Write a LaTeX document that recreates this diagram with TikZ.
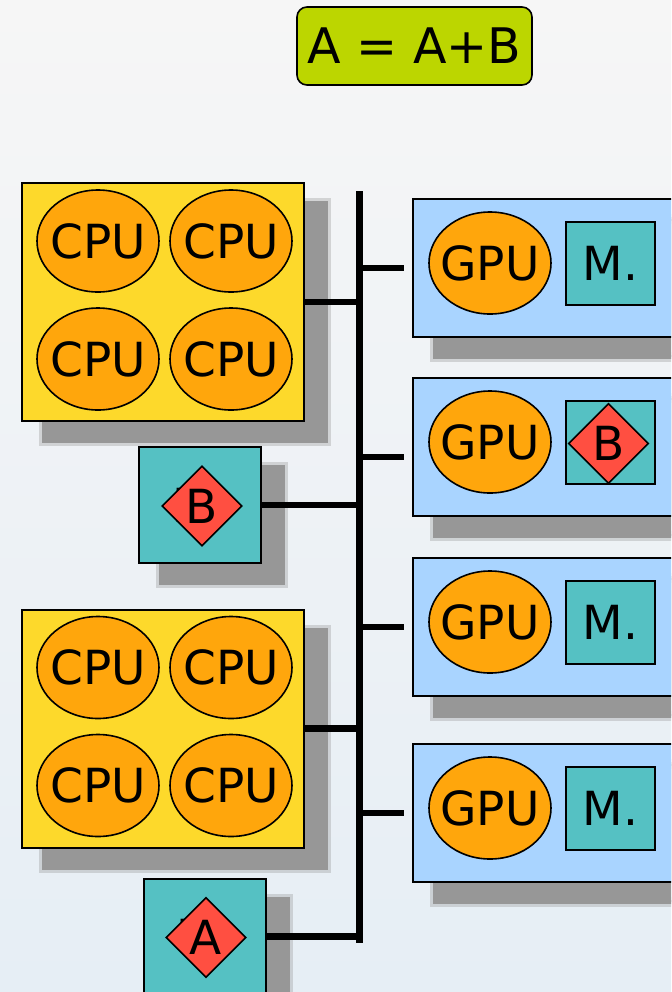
\documentclass[tikz,border=0pt]{standalone}
\usepackage{fontspec}
\setmainfont{DejaVu Sans}
\usetikzlibrary{calc,shapes.geometric}
\definecolor{boardgold}{HTML}{FDD92B}
\definecolor{coreorange}{HTML}{FFA60C}
\definecolor{memteal}{HTML}{55C1C3}
\definecolor{gpublue}{HTML}{A9D4FF}
\definecolor{datared}{HTML}{FF4F41}
\definecolor{formulalime}{HTML}{BCD600}
\definecolor{bgtop}{HTML}{F6F6F6}
\definecolor{bgbottom}{HTML}{E6EEF5}
\definecolor{shadowgrey}{HTML}{979797}
\tikzset{
    board shadow/.style={
        preaction={draw=shadowgrey,line width=5pt,draw opacity=.35,
            transform canvas={xshift=11pt,yshift=-10pt}},
        preaction={draw=shadowgrey,line width=2pt,fill=shadowgrey,
            transform canvas={xshift=11pt,yshift=-10pt}}
    },
    big text/.style={font=\fontsize{23.5}{28}\selectfont},
    cpu board/.style={draw,line width=1pt,fill=boardgold,
        minimum width=141pt,minimum height=119pt,board shadow},
    gpu board/.style={draw,line width=1pt,fill=gpublue,
        minimum width=150pt,minimum height=69pt,board shadow},
    core/.style={ellipse,draw,line width=.8pt,fill=coreorange,
        minimum width=61pt,minimum height=51pt,inner xsep=-5pt,
        inner ysep=0pt,big text},
    mem box/.style={draw,line width=.8pt,fill=memteal,
        minimum width=44.5pt,minimum height=41.5pt,inner sep=0pt,big text},
    host mem/.style={mem box,line width=1pt,
        minimum width=61pt,minimum height=58pt,board shadow},
    data tag/.style={diamond,draw,line width=.8pt,fill=datared,
        minimum width=40pt,minimum height=40pt,inner sep=-3pt,big text},
    formula/.style={draw,line width=.8pt,fill=formulalime,rounded corners=5pt,
        minimum width=117.5pt,minimum height=39pt,inner sep=0pt,
        font=\fontsize{24.5}{29}\selectfont},
    bus line/.style={line width=3.5pt},
    bus link/.style={line width=3.3pt}
}
\newcommand{\CpuBoard}[3]{%
\node[cpu board](#1)at(#2,#3){};
\foreach \dx/\dy/\k in {-65/-61/1,68/-61/2,-65/57/3,68/57/4}
    \node[core](#1-\k)at($(#1)+(\dx,\dy)$){CPU};
}
\newcommand{\GpuBoard}[2]{%
\node[gpu board](#1)at(563,#2){};
\node[core](#1-core)at(490,#2-5){GPU};
\node[mem box](#1-mem)at(610.5,#2-4.5){M.};
}

\begin{document}
\begin{tikzpicture}[x=.5pt,y=-.5pt]
    \useasboundingbox(0,0)rectangle(671,992);
    \clip(0,0)rectangle(671,992);
    \fill[top color=bgtop,bottom color=bgbottom](0,0)rectangle(671,992);

    \node[formula](sum)at(414.5,46){A = A+B};

    \coordinate(busTop)at(359,191);
    \coordinate(busBot)at(359,943);

    \CpuBoard{cpuA}{163}{302}
    \node[host mem](memB)at(200,505){M.};
    \node[data tag](tagB)at(202,506){B};
    \CpuBoard{cpuB}{163}{728.5}
    \node[host mem](memA)at(204.5,936.5){M.};
    \node[data tag](tagA)at(206,937.5){A};

    \GpuBoard{gpuA}{268}
    \GpuBoard{gpuB}{447}
    \node[data tag](tagGpu)at(608.5,443.5){B};
    \GpuBoard{gpuC}{627}
    \GpuBoard{gpuD}{813}

    \draw[bus line](busTop)--(busBot);
    \draw[bus link](cpuA.east)--(cpuA.east-|busTop);
    \draw[bus link](memB.east)--(memB.east-|busTop);
    \draw[bus link](cpuB.east)--(cpuB.east-|busTop);
    \draw[bus link](memA.east)--(memA.east-|busTop);

    \coordinate(gpuB-port)at([yshift=-5pt]gpuB.west);
    \foreach \g in {gpuA,gpuB-port,gpuC,gpuD}
        \draw[bus link,shorten >=4pt](\g.west-|busTop)--(\g.west);
\end{tikzpicture}
\end{document}
